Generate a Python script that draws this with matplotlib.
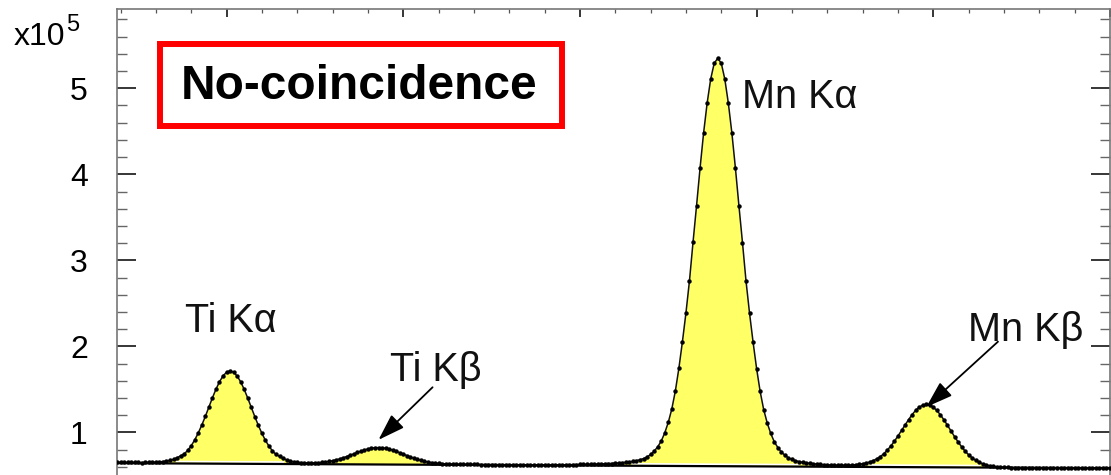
import numpy as np
import matplotlib.pyplot as plt
from matplotlib.patches import Rectangle
from matplotlib.ticker import MultipleLocator, FixedLocator, FormatStrFormatter

plt.rcParams['font.family'] = ['Liberation Sans', 'DejaVu Sans']

# counts per 10 eV channel (x1e5), first channel at 4.19 keV
counts = [
    0.652, 0.652, 0.652, 0.651, 0.651, 0.651, 0.651, 0.650, 0.651, 0.652,
    0.654, 0.655, 0.658, 0.662, 0.668, 0.675, 0.688, 0.705, 0.729, 0.750,
    0.791, 0.846, 0.913, 0.995, 1.086, 1.187, 1.295, 1.402, 1.502, 1.589,
    1.657, 1.700, 1.714, 1.699, 1.656, 1.588, 1.500, 1.399, 1.292, 1.184,
    1.082, 0.990, 0.908, 0.841, 0.785, 0.744, 0.722, 0.698, 0.681, 0.667,
    0.659, 0.653, 0.650, 0.647, 0.646, 0.646, 0.647, 0.648, 0.652, 0.657,
    0.664, 0.671, 0.681, 0.692, 0.705, 0.720, 0.735, 0.751, 0.768, 0.782,
    0.796, 0.808, 0.817, 0.823, 0.824, 0.822, 0.816, 0.807, 0.794, 0.780,
    0.765, 0.748, 0.732, 0.715, 0.700, 0.687, 0.675, 0.665, 0.657, 0.650,
    0.644, 0.640, 0.637, 0.635, 0.633, 0.631, 0.630, 0.629, 0.628, 0.628,
    0.628, 0.628, 0.628, 0.627, 0.627, 0.627, 0.627, 0.626, 0.626, 0.626,
    0.626, 0.625, 0.625, 0.625, 0.625, 0.624, 0.624, 0.624, 0.624, 0.623,
    0.623, 0.623, 0.623, 0.622, 0.622, 0.623, 0.624, 0.625, 0.625, 0.626,
    0.627, 0.628, 0.628, 0.629, 0.630, 0.631, 0.632, 0.634, 0.636, 0.638,
    0.639, 0.642, 0.645, 0.649, 0.652, 0.657, 0.664, 0.672, 0.683, 0.696,
    0.715, 0.744, 0.782, 0.833, 0.899, 0.995, 1.117, 1.273, 1.481, 1.746,
    2.054, 2.389, 2.764, 3.209, 3.635, 4.075, 4.482, 4.828, 5.107, 5.291,
    5.348, 5.291, 5.106, 4.827, 4.480, 4.073, 3.632, 3.206, 2.760, 2.385,
    2.049, 1.741, 1.476, 1.266, 1.110, 0.988, 0.891, 0.825, 0.773, 0.735,
    0.705, 0.686, 0.672, 0.661, 0.652, 0.645, 0.640, 0.636, 0.632, 0.628,
    0.625, 0.623, 0.620, 0.620, 0.619, 0.619, 0.618, 0.621, 0.622, 0.626,
    0.630, 0.636, 0.644, 0.656, 0.673, 0.693, 0.719, 0.753, 0.795, 0.844,
    0.899, 0.959, 1.023, 1.088, 1.149, 1.207, 1.257, 1.294, 1.317, 1.325,
    1.317, 1.293, 1.256, 1.205, 1.147, 1.084, 1.017, 0.952, 0.891, 0.834,
    0.783, 0.740, 0.705, 0.676, 0.653, 0.635, 0.622, 0.613, 0.606, 0.601,
    0.597, 0.596, 0.594, 0.592, 0.591, 0.591, 0.591, 0.590, 0.590, 0.590,
    0.590, 0.589, 0.589, 0.589, 0.589, 0.588, 0.588, 0.588, 0.588, 0.587,
    0.587, 0.587, 0.587, 0.586, 0.586, 0.586, 0.586, 0.585, 0.585, 0.585,
    0.585, 0.585,
]
e_first = 4.19
e_step = 0.01

# linear background (first / last channel)
bg_ends = [0.643, 0.585]

line_names = ['Ti K\u03b1', 'Ti K\u03b2', 'Mn K\u03b1', 'Mn K\u03b2']
line_energy = [4.51, 4.93, 5.89, 6.48]
y_ticks = [1, 2, 3, 4, 5]

counts = np.array(counts)
energy = np.round(e_first + e_step * np.arange(len(counts)), 2)
bg = np.interp(energy, [energy[0], energy[-1]], bg_ends)

W, H = 1111, 475
fig = plt.figure(figsize=(W / 100, H / 100), dpi=100)
# axes run from y=0 (below the visible area) up to the top frame
ax = fig.add_axes([117 / W, (H - 518.5) / H, 993 / W, 509.5 / H])

ax.fill_between(energy, bg, counts, where=counts > bg + 0.006, interpolate=True,
                color='#ffff66', lw=0, zorder=1)

# thin white strip along the bottom of the big peaks
above = (counts - bg > 0.05).astype(int)
edges = np.flatnonzero(np.diff(np.r_[0, above, 0]))
for a, b in zip(edges[::2], edges[1::2]):
    if (counts[a:b] - bg[a:b]).max() > 0.5:
        ax.plot(energy[a:b], bg[a:b] + 0.022, color='white', lw=1.3, zorder=2)

ax.plot(energy[[0, -1]], bg_ends, color='black', lw=1.6, zorder=3)
ax.plot(energy, counts, color='#111111', lw=1.1, marker='o', ms=3.2,
        mfc='black', mec='black', mew=0, zorder=4)

# peak labels
label_pos = [(4.382, 2.171), (4.962, 1.598), (5.958, 4.767), (6.598, 2.057)]
for name, (tx, ty) in zip(line_names, label_pos):
    ax.text(tx, ty, name, fontsize=28.5, ha='left', va='baseline', color='#111111', zorder=6)

# arrows to the two small K-beta lines
arrow_from = {1: (5.083, 1.525), 3: (6.683, 2.055)}
arrow_lift = {1: 0.09, 3: -0.03}
for k, (fx, fy) in arrow_from.items():
    idx = int(np.argmin(np.abs(energy - line_energy[k])))
    ax.annotate('', xy=(energy[idx], counts[idx] + arrow_lift[k]), xytext=(fx, fy),
                arrowprops=dict(arrowstyle='-|>,head_length=0.75,head_width=0.25',
                                mutation_scale=22, lw=1.3, color='black',
                                shrinkA=0, shrinkB=0), zorder=6)

ax.set_xlim(energy[0], energy[-1])
ax.set_ylim(0, 5.921)
ax.xaxis.set_major_locator(MultipleLocator(0.5))
ax.xaxis.set_minor_locator(MultipleLocator(0.1))
ax.yaxis.set_major_locator(FixedLocator(y_ticks))
ax.yaxis.set_minor_locator(MultipleLocator(0.2))
ax.yaxis.set_major_formatter(FormatStrFormatter('%d'))

ax.tick_params(axis='x', which='both', direction='in', top=True, bottom=True,
               labelbottom=False)
ax.tick_params(axis='x', which='major', length=6, width=1.1)
ax.tick_params(axis='x', which='minor', length=3, width=0.9, color='#555555')
ax.tick_params(axis='y', which='both', direction='in', left=True, right=True)
ax.tick_params(axis='y', which='major', length=13.5, width=1.1, labelsize=23, pad=21)
ax.tick_params(axis='y', which='minor', length=7, width=1.0, color='#666666')
for s in ax.spines.values():
    s.set_color('#777777')
    s.set_linewidth(1.2)

fig.text(14 / W, 1 - 45 / H, 'x10', fontsize=23, ha='left', va='baseline')
fig.text(66 / W, 1 - 31 / H, '5', fontsize=17, ha='left', va='baseline')

box = Rectangle((160 / W, 1 - 126 / H), 402 / W, 82 / H, transform=fig.transFigure,
                fill=False, ec='#ff0000', lw=4.3, zorder=7)
fig.add_artist(box)
fig.text(359 / W, 1 - 99 / H, 'No-coincidence', fontsize=34.5, fontweight='bold',
         ha='center', va='baseline')

fig.savefig('out.png', dpi=100)
